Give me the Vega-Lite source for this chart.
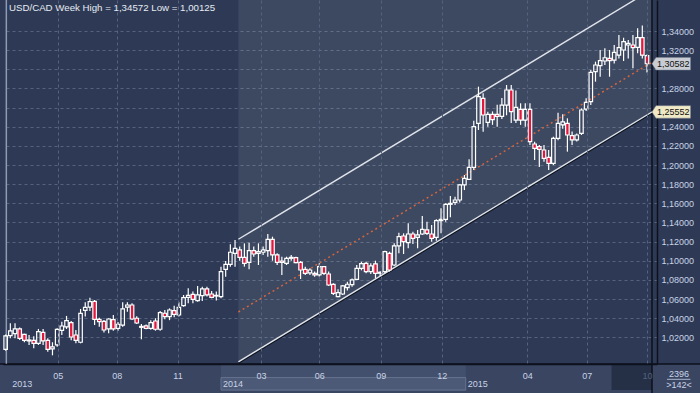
{
  "$schema": "https://vega.github.io/schema/vega-lite/v6.json",
  "width": 654,
  "height": 364,
  "autosize": "none",
  "padding": {"left": 3, "top": 0, "right": 43, "bottom": 29},
  "background": "#2e3a55",
  "resolve": {"axis": {"x": "independent", "y": "independent"}},
  "config": {
    "view": {"stroke": null},
    "axis": {"labelFont": "Liberation Sans", "labelFontSize": 9, "labelColor": "#c9d3e6", "ticks": false, "gridColor": "#56637f", "gridDash": [3, 3], "gridWidth": 1, "domainColor": "#0c111d", "domainWidth": 1.5, "labelFlush": false, "labelOverlap": false, "labelBound": false}
  },
  "datasets": {
    "candles": [
      {"d":"2013-02-17","o":1.0075,"h":1.0230,"l":1.0060,"c":1.0215},
      {"d":"2013-02-24","o":1.0218,"h":1.0347,"l":1.0190,"c":1.0267},
      {"d":"2013-03-03","o":1.0239,"h":1.0347,"l":1.0190,"c":1.0288},
      {"d":"2013-03-10","o":1.0288,"h":1.0302,"l":1.0173,"c":1.0190},
      {"d":"2013-03-17","o":1.0232,"h":1.0239,"l":1.0149,"c":1.0169},
      {"d":"2013-03-24","o":1.0163,"h":1.0225,"l":1.0121,"c":1.0173},
      {"d":"2013-03-31","o":1.0169,"h":1.0211,"l":1.0086,"c":1.0138},
      {"d":"2013-04-07","o":1.0138,"h":1.0288,"l":1.0121,"c":1.0260},
      {"d":"2013-04-14","o":1.0253,"h":1.0288,"l":1.0121,"c":1.0163},
      {"d":"2013-04-21","o":1.0169,"h":1.0190,"l":1.0051,"c":1.0075},
      {"d":"2013-04-28","o":1.0079,"h":1.0149,"l":1.00125,"c":1.0100},
      {"d":"2013-05-05","o":1.0121,"h":1.0295,"l":1.0103,"c":1.0284},
      {"d":"2013-05-12","o":1.0274,"h":1.0364,"l":1.0225,"c":1.0319},
      {"d":"2013-05-19","o":1.0309,"h":1.0424,"l":1.0288,"c":1.0375},
      {"d":"2013-05-26","o":1.0354,"h":1.0371,"l":1.0169,"c":1.0204},
      {"d":"2013-06-02","o":1.0225,"h":1.0277,"l":1.0138,"c":1.0169},
      {"d":"2013-06-09","o":1.0149,"h":1.0497,"l":1.0138,"c":1.0451},
      {"d":"2013-06-16","o":1.0483,"h":1.0566,"l":1.0417,"c":1.0514},
      {"d":"2013-06-23","o":1.0517,"h":1.0615,"l":1.0476,"c":1.0573},
      {"d":"2013-06-30","o":1.0577,"h":1.0591,"l":1.0330,"c":1.0389},
      {"d":"2013-07-07","o":1.0389,"h":1.0406,"l":1.0312,"c":1.0364},
      {"d":"2013-07-14","o":1.0368,"h":1.0382,"l":1.0250,"c":1.0277},
      {"d":"2013-07-21","o":1.0288,"h":1.0399,"l":1.0243,"c":1.0392},
      {"d":"2013-07-28","o":1.0385,"h":1.0434,"l":1.0270,"c":1.0288},
      {"d":"2013-08-04","o":1.0295,"h":1.0360,"l":1.0270,"c":1.0337},
      {"d":"2013-08-11","o":1.0329,"h":1.0566,"l":1.0310,"c":1.0497},
      {"d":"2013-08-18","o":1.0517,"h":1.0566,"l":1.0469,"c":1.0538},
      {"d":"2013-08-25","o":1.0538,"h":1.0556,"l":1.0382,"c":1.0392},
      {"d":"2013-09-01","o":1.0400,"h":1.0420,"l":1.0340,"c":1.0350},
      {"d":"2013-09-08","o":1.0305,"h":1.0340,"l":1.0180,"c":1.0315},
      {"d":"2013-09-15","o":1.0320,"h":1.0335,"l":1.0285,"c":1.0295},
      {"d":"2013-09-22","o":1.0295,"h":1.0380,"l":1.0280,"c":1.0354},
      {"d":"2013-09-29","o":1.0371,"h":1.0400,"l":1.0270,"c":1.0285},
      {"d":"2013-10-06","o":1.0285,"h":1.0476,"l":1.0270,"c":1.0458},
      {"d":"2013-10-13","o":1.0452,"h":1.0486,"l":1.0390,"c":1.0417},
      {"d":"2013-10-20","o":1.0417,"h":1.0503,"l":1.0380,"c":1.0486},
      {"d":"2013-10-27","o":1.0480,"h":1.0531,"l":1.0410,"c":1.0441},
      {"d":"2013-11-03","o":1.0434,"h":1.0566,"l":1.0417,"c":1.0514},
      {"d":"2013-11-10","o":1.0531,"h":1.0643,"l":1.0521,"c":1.0615},
      {"d":"2013-11-17","o":1.0618,"h":1.0712,"l":1.0556,"c":1.0639},
      {"d":"2013-11-24","o":1.0650,"h":1.0678,"l":1.0556,"c":1.0597},
      {"d":"2013-12-01","o":1.0584,"h":1.0737,"l":1.0573,"c":1.0643},
      {"d":"2013-12-08","o":1.0636,"h":1.0730,"l":1.0580,"c":1.0706},
      {"d":"2013-12-15","o":1.0706,"h":1.0730,"l":1.0626,"c":1.0643},
      {"d":"2013-12-22","o":1.0653,"h":1.0685,"l":1.0608,"c":1.0618},
      {"d":"2013-12-29","o":1.0632,"h":1.0678,"l":1.0584,"c":1.0639},
      {"d":"2014-01-05","o":1.0625,"h":1.0939,"l":1.0608,"c":1.0887},
      {"d":"2014-01-12","o":1.0911,"h":1.0998,"l":1.0834,"c":1.0963},
      {"d":"2014-01-19","o":1.0963,"h":1.1172,"l":1.0939,"c":1.1089},
      {"d":"2014-01-26","o":1.1078,"h":1.1217,"l":1.0939,"c":1.1130},
      {"d":"2014-02-02","o":1.1113,"h":1.1148,"l":1.1001,"c":1.1036},
      {"d":"2014-02-09","o":1.1036,"h":1.1182,"l":1.0939,"c":1.0974},
      {"d":"2014-02-16","o":1.0984,"h":1.1189,"l":1.0911,"c":1.1106},
      {"d":"2014-02-23","o":1.1106,"h":1.1148,"l":1.1043,"c":1.1071},
      {"d":"2014-03-02","o":1.1078,"h":1.1182,"l":1.0956,"c":1.1095},
      {"d":"2014-03-09","o":1.1089,"h":1.1148,"l":1.1061,"c":1.1113},
      {"d":"2014-03-16","o":1.1106,"h":1.1280,"l":1.1043,"c":1.1224},
      {"d":"2014-03-23","o":1.1224,"h":1.1252,"l":1.1001,"c":1.1061},
      {"d":"2014-03-30","o":1.1061,"h":1.1078,"l":1.0956,"c":1.0984},
      {"d":"2014-04-06","o":1.0998,"h":1.1043,"l":1.0852,"c":1.0984},
      {"d":"2014-04-13","o":1.0974,"h":1.1043,"l":1.0956,"c":1.1026},
      {"d":"2014-04-20","o":1.1026,"h":1.1060,"l":1.1000,"c":1.1036},
      {"d":"2014-04-27","o":1.1033,"h":1.1043,"l":1.0974,"c":1.0980},
      {"d":"2014-05-04","o":1.0984,"h":1.0998,"l":1.0810,"c":1.0904},
      {"d":"2014-05-11","o":1.0911,"h":1.0939,"l":1.0852,"c":1.0869},
      {"d":"2014-05-18","o":1.0873,"h":1.0921,"l":1.0852,"c":1.0904},
      {"d":"2014-05-25","o":1.0869,"h":1.0887,"l":1.0834,"c":1.0852},
      {"d":"2014-06-01","o":1.0852,"h":1.0974,"l":1.0834,"c":1.0939},
      {"d":"2014-06-08","o":1.0939,"h":1.0946,"l":1.0852,"c":1.0869},
      {"d":"2014-06-15","o":1.0862,"h":1.0887,"l":1.0737,"c":1.0747},
      {"d":"2014-06-22","o":1.0754,"h":1.0765,"l":1.0643,"c":1.0660},
      {"d":"2014-06-29","o":1.0625,"h":1.0702,"l":1.0618,"c":1.0667},
      {"d":"2014-07-06","o":1.0653,"h":1.0747,"l":1.0643,"c":1.0737},
      {"d":"2014-07-13","o":1.0720,"h":1.0780,"l":1.0690,"c":1.0755},
      {"d":"2014-07-20","o":1.0752,"h":1.0815,"l":1.0730,"c":1.0800},
      {"d":"2014-07-27","o":1.0806,"h":1.0956,"l":1.0799,"c":1.0921},
      {"d":"2014-08-03","o":1.0921,"h":1.0990,"l":1.0900,"c":1.0970},
      {"d":"2014-08-10","o":1.0974,"h":1.0991,"l":1.0869,"c":1.0887},
      {"d":"2014-08-17","o":1.0887,"h":1.0974,"l":1.0862,"c":1.0946},
      {"d":"2014-08-24","o":1.0967,"h":1.1001,"l":1.0817,"c":1.0869},
      {"d":"2014-08-31","o":1.0870,"h":1.0890,"l":1.0840,"c":1.0880},
      {"d":"2014-09-07","o":1.0887,"h":1.1106,"l":1.0869,"c":1.1095},
      {"d":"2014-09-14","o":1.1078,"h":1.1095,"l":1.0887,"c":1.0904},
      {"d":"2014-09-21","o":1.0956,"h":1.1182,"l":1.0946,"c":1.1155},
      {"d":"2014-09-28","o":1.1155,"h":1.1294,"l":1.1078,"c":1.1252},
      {"d":"2014-10-05","o":1.1259,"h":1.1287,"l":1.1071,"c":1.1200},
      {"d":"2014-10-12","o":1.1190,"h":1.1391,"l":1.1130,"c":1.1280},
      {"d":"2014-10-19","o":1.1280,"h":1.1304,"l":1.1175,"c":1.1235},
      {"d":"2014-10-26","o":1.1245,"h":1.1322,"l":1.1130,"c":1.1270},
      {"d":"2014-11-02","o":1.1280,"h":1.1468,"l":1.1270,"c":1.1329},
      {"d":"2014-11-09","o":1.1322,"h":1.1409,"l":1.1270,"c":1.1287},
      {"d":"2014-11-16","o":1.1280,"h":1.1374,"l":1.1200,"c":1.1235},
      {"d":"2014-11-23","o":1.1245,"h":1.1433,"l":1.1210,"c":1.1419},
      {"d":"2014-11-30","o":1.1419,"h":1.1548,"l":1.1287,"c":1.1433},
      {"d":"2014-12-07","o":1.1433,"h":1.1600,"l":1.1409,"c":1.1590},
      {"d":"2014-12-14","o":1.1590,"h":1.1677,"l":1.1454,"c":1.1600},
      {"d":"2014-12-21","o":1.1611,"h":1.1670,"l":1.1583,"c":1.1635},
      {"d":"2014-12-28","o":1.1635,"h":1.1800,"l":1.1610,"c":1.1792},
      {"d":"2015-01-04","o":1.1792,"h":1.1896,"l":1.1739,"c":1.1861},
      {"d":"2015-01-11","o":1.1851,"h":1.2060,"l":1.1844,"c":1.1976},
      {"d":"2015-01-18","o":1.1976,"h":1.2463,"l":1.1948,"c":1.2401},
      {"d":"2015-01-25","o":1.2436,"h":1.2819,"l":1.2366,"c":1.2714},
      {"d":"2015-02-01","o":1.2697,"h":1.2749,"l":1.2349,"c":1.2523},
      {"d":"2015-02-08","o":1.2446,"h":1.2558,"l":1.2401,"c":1.2530},
      {"d":"2015-02-15","o":1.2530,"h":1.2560,"l":1.2420,"c":1.2475},
      {"d":"2015-02-22","o":1.2530,"h":1.2630,"l":1.2400,"c":1.2508},
      {"d":"2015-03-01","o":1.2508,"h":1.2700,"l":1.2480,"c":1.2627},
      {"d":"2015-03-08","o":1.2627,"h":1.2836,"l":1.2520,"c":1.2784},
      {"d":"2015-03-15","o":1.2784,"h":1.2836,"l":1.2440,"c":1.2558},
      {"d":"2015-03-22","o":1.2470,"h":1.2780,"l":1.2440,"c":1.2603},
      {"d":"2015-03-29","o":1.2582,"h":1.2645,"l":1.2420,"c":1.2470},
      {"d":"2015-04-05","o":1.2470,"h":1.2645,"l":1.2400,"c":1.2582},
      {"d":"2015-04-12","o":1.2582,"h":1.2645,"l":1.2209,"c":1.2244},
      {"d":"2015-04-19","o":1.2220,"h":1.2244,"l":1.2053,"c":1.2175},
      {"d":"2015-04-26","o":1.2192,"h":1.2210,"l":1.1980,"c":1.2164},
      {"d":"2015-05-03","o":1.2157,"h":1.2210,"l":1.2035,"c":1.2070},
      {"d":"2015-05-10","o":1.2080,"h":1.2157,"l":1.1948,"c":1.2018},
      {"d":"2015-05-17","o":1.2018,"h":1.2296,"l":1.2000,"c":1.2279},
      {"d":"2015-05-24","o":1.2279,"h":1.2547,"l":1.2260,"c":1.2436},
      {"d":"2015-05-31","o":1.2420,"h":1.2530,"l":1.2380,"c":1.2450},
      {"d":"2015-06-07","o":1.2436,"h":1.2488,"l":1.2140,"c":1.2314},
      {"d":"2015-06-14","o":1.2307,"h":1.2350,"l":1.2210,"c":1.2262},
      {"d":"2015-06-21","o":1.2262,"h":1.2330,"l":1.2245,"c":1.2314},
      {"d":"2015-06-28","o":1.2331,"h":1.2592,"l":1.2314,"c":1.2575},
      {"d":"2015-07-05","o":1.2585,"h":1.2697,"l":1.2564,"c":1.2655},
      {"d":"2015-07-12","o":1.2662,"h":1.2993,"l":1.2627,"c":1.2968},
      {"d":"2015-07-19","o":1.2975,"h":1.3080,"l":1.2871,"c":1.3045},
      {"d":"2015-07-26","o":1.3038,"h":1.3202,"l":1.2923,"c":1.3090},
      {"d":"2015-08-02","o":1.3087,"h":1.3219,"l":1.3045,"c":1.3121},
      {"d":"2015-08-09","o":1.3114,"h":1.3202,"l":1.2923,"c":1.3090},
      {"d":"2015-08-16","o":1.3097,"h":1.3254,"l":1.3062,"c":1.3177},
      {"d":"2015-08-23","o":1.3149,"h":1.3358,"l":1.3114,"c":1.3226},
      {"d":"2015-08-30","o":1.3202,"h":1.3330,"l":1.3087,"c":1.3289},
      {"d":"2015-09-06","o":1.3254,"h":1.3306,"l":1.3114,"c":1.3271},
      {"d":"2015-09-13","o":1.3254,"h":1.3358,"l":1.3010,"c":1.3226},
      {"d":"2015-09-20","o":1.3229,"h":1.3428,"l":1.3167,"c":1.3330},
      {"d":"2015-09-27","o":1.3330,"h":1.34572,"l":1.3114,"c":1.3149},
      {"d":"2015-10-04","o":1.3142,"h":1.3156,"l":1.2968,"c":1.30582}
    ],
    "channel": [
      {"d":"2014-01-31","up":1.1225,"mid":1.0465,"lo":0.9945},
      {"d":"2015-10-12","up":1.3837,"mid":1.3077,"lo":1.2557}
    ],
    "years": [
      {"year":"2013","start":"2013-02-24","end":"2014-01-05"},
      {"year":"2014","start":"2014-01-05","end":"2015-01-06"},
      {"year":"2015","start":"2015-01-06","end":"2015-10-12"}
    ],
    "callouts": [
      {"label":"1,30582","v":1.30582,"kind":"close"},
      {"label":"1,25552","v":1.25552,"kind":"channel"}
    ],
    "counter": [{"bars":"2396","visible":">142<"}],
    "heading": [{"t":"USD/CAD Week High = 1,34572 Low = 1,00125"}]
  },
  "layer": [
    {
      "data": {"name": "channel"},
      "mark": {"type": "area", "clip": true, "color": "#ffffff", "opacity": 0.075},
      "encoding": {
        "x": {"field": "d", "type": "temporal", "axis": null, "scale": {"type": "utc", "domain": [{"year":2013,"month":2,"date":20,"hours":12,"utc":true},{"year":2015,"month":10,"date":11,"hours":12,"utc":true}]}},
        "y": {"field": "lo", "type": "quantitative", "axis": null, "scale": {"domain": [0.9922, 1.3724], "zero": false, "nice": false}},
        "y2": {"datum": 1.3724}
      }
    },
    {
      "data": {"values": [{}]},
      "mark": {"type": "rect", "color": "#394561"},
      "encoding": {
        "x": {"datum": {"year":2012,"month":12,"date":1,"utc":true}, "type": "temporal", "axis": null, "scale": {"type": "utc", "domain": [{"year":2013,"month":2,"date":20,"hours":12,"utc":true},{"year":2015,"month":10,"date":11,"hours":12,"utc":true}]}},
        "x2": {"datum": {"year":2016,"month":3,"date":1,"utc":true}},
        "y": {"datum": 0.9922, "type": "quantitative", "axis": null, "scale": {"domain": [0.9922, 1.3724], "zero": false, "nice": false}},
        "y2": {"datum": 0.93}
      }
    },
    {
      "data": {"name": "years"},
      "transform": [{"filter": "datum.year == '2014'"}],
      "mark": {"type": "rect", "color": "#43506d"},
      "encoding": {
        "x": {"field": "start", "type": "temporal", "axis": null, "scale": {"type": "utc", "domain": [{"year":2013,"month":2,"date":20,"hours":12,"utc":true},{"year":2015,"month":10,"date":11,"hours":12,"utc":true}]}},
        "x2": {"field": "end"},
        "y": {"datum": 0.9922, "type": "quantitative", "axis": null, "scale": {"domain": [0.9922, 1.3724], "zero": false, "nice": false}},
        "y2": {"datum": 0.9640}
      }
    },
    {
      "data": {"name": "years"},
      "transform": [{"filter": "datum.year == '2014'"}],
      "mark": {"type": "rect", "color": "#4c5977", "stroke": "#66738f", "strokeWidth": 1},
      "encoding": {
        "x": {"field": "start", "type": "temporal", "axis": null, "scale": {"type": "utc", "domain": [{"year":2013,"month":2,"date":20,"hours":12,"utc":true},{"year":2015,"month":10,"date":11,"hours":12,"utc":true}]}},
        "x2": {"field": "end"},
        "y": {"datum": 0.9780, "type": "quantitative", "axis": null, "scale": {"domain": [0.9922, 1.3724], "zero": false, "nice": false}},
        "y2": {"datum": 0.9650}
      }
    },
    {
      "data": {"values": [{}]},
      "mark": {"type": "rect", "color": "#222b42", "opacity": 0.85},
      "encoding": {
        "x": {"datum": {"year":2015,"month":8,"date":12,"utc":true}, "type": "temporal", "axis": null, "scale": {"type": "utc", "domain": [{"year":2013,"month":2,"date":20,"hours":12,"utc":true},{"year":2015,"month":10,"date":11,"hours":12,"utc":true}]}},
        "x2": {"datum": {"year":2015,"month":10,"date":11,"hours":12,"utc":true}},
        "y": {"datum": 0.9922, "type": "quantitative", "axis": null, "scale": {"domain": [0.9922, 1.3724], "zero": false, "nice": false}},
        "y2": {"datum": 0.9650}
      }
    },
    {
      "data": {"name": "years"},
      "mark": {"type": "text", "align": "left", "baseline": "middle", "dx": 2, "font": "Liberation Sans", "fontSize": 9, "color": "#c9d3e6"},
      "encoding": {
        "x": {"field": "start", "type": "temporal", "axis": null, "scale": {"type": "utc", "domain": [{"year":2013,"month":2,"date":20,"hours":12,"utc":true},{"year":2015,"month":10,"date":11,"hours":12,"utc":true}]}},
        "y": {"datum": 0.9712, "type": "quantitative", "axis": null, "scale": {"domain": [0.9922, 1.3724], "zero": false, "nice": false}},
        "text": {"field": "year"}
      }
    },
    {
      "data": {"name": "counter"},
      "mark": {"type": "text", "align": "center", "baseline": "middle", "font": "Liberation Sans", "fontSize": 9, "color": "#c9d3e6"},
      "encoding": {
        "x": {"datum": {"year":2015,"month":11,"date":21,"utc":true}, "type": "temporal", "axis": null, "scale": {"type": "utc", "domain": [{"year":2013,"month":2,"date":20,"hours":12,"utc":true},{"year":2015,"month":10,"date":11,"hours":12,"utc":true}]}},
        "y": {"datum": 0.9822, "type": "quantitative", "axis": null, "scale": {"domain": [0.9922, 1.3724], "zero": false, "nice": false}},
        "text": {"field": "bars"}
      }
    },
    {
      "data": {"name": "counter"},
      "mark": {"type": "text", "align": "center", "baseline": "middle", "font": "Liberation Sans", "fontSize": 9, "color": "#c9d3e6"},
      "encoding": {
        "x": {"datum": {"year":2015,"month":11,"date":21,"utc":true}, "type": "temporal", "axis": null, "scale": {"type": "utc", "domain": [{"year":2013,"month":2,"date":20,"hours":12,"utc":true},{"year":2015,"month":10,"date":11,"hours":12,"utc":true}]}},
        "y": {"datum": 0.9700, "type": "quantitative", "axis": null, "scale": {"domain": [0.9922, 1.3724], "zero": false, "nice": false}},
        "text": {"field": "visible"}
      }
    },
    {
      "data": {"values": [{}]},
      "mark": {"type": "rule", "color": "#aab6cc", "strokeWidth": 1},
      "encoding": {
        "x": {"datum": {"year":2015,"month":11,"date":3,"utc":true}, "type": "temporal", "axis": null, "scale": {"type": "utc", "domain": [{"year":2013,"month":2,"date":20,"hours":12,"utc":true},{"year":2015,"month":10,"date":11,"hours":12,"utc":true}]}},
        "x2": {"datum": {"year":2015,"month":12,"date":8,"utc":true}},
        "y": {"datum": 0.9762, "type": "quantitative", "axis": null, "scale": {"domain": [0.9922, 1.3724], "zero": false, "nice": false}}
      }
    },
    {
      "data": {"values": [{}]},
      "mark": {"type": "rule", "color": "#0c111d", "strokeWidth": 1.5},
      "encoding": {
        "x": {"datum": {"year":2012,"month":12,"date":1,"utc":true}, "type": "temporal", "axis": null, "scale": {"type": "utc", "domain": [{"year":2013,"month":2,"date":20,"hours":12,"utc":true},{"year":2015,"month":10,"date":11,"hours":12,"utc":true}]}},
        "x2": {"datum": {"year":2016,"month":3,"date":1,"utc":true}},
        "y": {"datum": 0.9922, "type": "quantitative", "axis": null, "scale": {"domain": [0.9922, 1.3724], "zero": false, "nice": false}}
      }
    },
    {
      "data": {"values": [{}]},
      "mark": {"type": "rule", "color": "#0c111d", "strokeWidth": 1.5},
      "encoding": {
        "x": {"datum": {"year":2015,"month":10,"date":11,"hours":12,"utc":true}, "type": "temporal", "axis": null, "scale": {"type": "utc", "domain": [{"year":2013,"month":2,"date":20,"hours":12,"utc":true},{"year":2015,"month":10,"date":11,"hours":12,"utc":true}]}},
        "y": {"datum": 1.3724, "type": "quantitative", "axis": null, "scale": {"domain": [0.9922, 1.3724], "zero": false, "nice": false}},
        "y2": {"datum": 0.93}
      }
    },
    {
      "data": {"values": [{}]},
      "mark": {"type": "rule", "color": "#8f9bb1", "strokeWidth": 1.5},
      "encoding": {
        "x": {"datum": {"year":2013,"month":2,"date":18,"utc":true}, "type": "temporal", "axis": null, "scale": {"type": "utc", "domain": [{"year":2013,"month":2,"date":20,"hours":12,"utc":true},{"year":2015,"month":10,"date":11,"hours":12,"utc":true}]}},
        "y": {"datum": 1.3724, "type": "quantitative", "axis": null, "scale": {"domain": [0.9922, 1.3724], "zero": false, "nice": false}},
        "y2": {"datum": 0.9922}
      }
    },
    {
      "data": {"name": "channel"},
      "mark": {"type": "line", "clip": true, "color": "#0c111d", "strokeWidth": 1.5, "yOffset": 1.2},
      "encoding": {
        "x": {"field": "d", "type": "temporal", "axis": null, "scale": {"type": "utc", "domain": [{"year":2013,"month":2,"date":20,"hours":12,"utc":true},{"year":2015,"month":10,"date":11,"hours":12,"utc":true}]}},
        "y": {"field": "lo", "type": "quantitative", "axis": null, "scale": {"domain": [0.9922, 1.3724], "zero": false, "nice": false}}
      }
    },
    {
      "data": {"name": "channel"},
      "mark": {"type": "line", "clip": true, "color": "#dfe3ea", "strokeWidth": 1.4},
      "encoding": {
        "x": {"field": "d", "type": "temporal", "axis": null, "scale": {"type": "utc", "domain": [{"year":2013,"month":2,"date":20,"hours":12,"utc":true},{"year":2015,"month":10,"date":11,"hours":12,"utc":true}]}},
        "y": {"field": "lo", "type": "quantitative", "axis": null, "scale": {"domain": [0.9922, 1.3724], "zero": false, "nice": false}}
      }
    },
    {
      "data": {"name": "channel"},
      "mark": {"type": "line", "clip": true, "color": "#dfe3ea", "strokeWidth": 1.4},
      "encoding": {
        "x": {"field": "d", "type": "temporal", "axis": null, "scale": {"type": "utc", "domain": [{"year":2013,"month":2,"date":20,"hours":12,"utc":true},{"year":2015,"month":10,"date":11,"hours":12,"utc":true}]}},
        "y": {"field": "up", "type": "quantitative", "axis": null, "scale": {"domain": [0.9922, 1.3724], "zero": false, "nice": false}}
      }
    },
    {
      "data": {"name": "channel"},
      "mark": {"type": "line", "clip": true, "color": "#d2643e", "strokeWidth": 1.5, "strokeDash": [2, 3]},
      "encoding": {
        "x": {"field": "d", "type": "temporal", "axis": null, "scale": {"type": "utc", "domain": [{"year":2013,"month":2,"date":20,"hours":12,"utc":true},{"year":2015,"month":10,"date":11,"hours":12,"utc":true}]}},
        "y": {"field": "mid", "type": "quantitative", "axis": null, "scale": {"domain": [0.9922, 1.3724], "zero": false, "nice": false}}
      }
    },
    {
      "data": {"name": "candles"},
      "mark": {"type": "rule", "clip": true, "color": "#ffffff", "strokeWidth": 1.2},
      "encoding": {
        "x": {"field": "d", "type": "temporal", "axis": null, "scale": {"type": "utc", "domain": [{"year":2013,"month":2,"date":20,"hours":12,"utc":true},{"year":2015,"month":10,"date":11,"hours":12,"utc":true}]}},
        "y": {"field": "l", "type": "quantitative", "axis": null, "scale": {"domain": [0.9922, 1.3724], "zero": false, "nice": false}},
        "y2": {"field": "o"}
      }
    },
    {
      "data": {"name": "candles"},
      "mark": {"type": "rule", "clip": true, "color": "#ffffff", "strokeWidth": 1.2},
      "encoding": {
        "x": {"field": "d", "type": "temporal", "axis": null, "scale": {"type": "utc", "domain": [{"year":2013,"month":2,"date":20,"hours":12,"utc":true},{"year":2015,"month":10,"date":11,"hours":12,"utc":true}]}},
        "y": {"field": "c", "type": "quantitative", "axis": null, "scale": {"domain": [0.9922, 1.3724], "zero": false, "nice": false}},
        "y2": {"field": "h"}
      }
    },
    {
      "data": {"name": "candles"},
      "mark": {"type": "bar", "size": 3.5, "stroke": "#ffffff", "strokeWidth": 1.2, "clip": true},
      "encoding": {
        "x": {"field": "d", "type": "temporal", "scale": {"type": "utc", "domain": [{"year":2013,"month":2,"date":20,"hours":12,"utc":true},{"year":2015,"month":10,"date":11,"hours":12,"utc":true}]},
          "axis": {"title": null, "values": [{"year":2013,"month":5,"date":6,"utc":true},{"year":2013,"month":8,"date":2,"utc":true},{"year":2013,"month":11,"date":1,"utc":true},{"year":2014,"month":3,"date":6,"utc":true},{"year":2014,"month":6,"date":1,"utc":true},{"year":2014,"month":9,"date":1,"utc":true},{"year":2014,"month":12,"date":1,"utc":true},{"year":2015,"month":4,"date":8,"utc":true},{"year":2015,"month":7,"date":6,"utc":true},{"year":2015,"month":10,"date":4,"utc":true}],
            "labelExpr": "utcFormat(datum.value, '%m')", "grid": true, "labelPadding": 7, "zindex": 1, "labelAlign": "center",
            "labelColor": {"condition": {"test": "datum.value > utc(2015, 7, 20)", "value": "#56617c"}, "value": "#c9d3e6"}}},
        "y": {"field": "o", "type": "quantitative", "scale": {"domain": [0.9922, 1.3724], "zero": false, "nice": false},
          "axis": {"title": null, "orient": "right", "values": [1.02,1.04,1.06,1.08,1.10,1.12,1.14,1.16,1.18,1.20,1.22,1.24,1.26,1.28,1.30,1.32,1.34], "labelExpr": "datum.value == 1.26 || datum.value == 1.3 ? '' : replace(format(datum.value, '.5f'), '.', ',')", "grid": true, "labelPadding": 4, "labelAlign": "left", "labelBaseline": "middle"}},
        "y2": {"field": "c"},
        "fill": {"condition": {"test": "datum.c < datum.o", "value": "#e3163c"}, "value": "transparent"}
      }
    },
    {
      "data": {"name": "callouts"},
      "mark": {"type": "point", "filled": true, "opacity": 1, "size": 100, "shape": "M0,0L0.8,-1.25L7.7,-1.25L7.7,1.25L0.8,1.25Z", "stroke": "#7d8594", "strokeWidth": 0.5},
      "encoding": {
        "x": {"datum": {"year":2015,"month":10,"date":11,"hours":12,"utc":true}, "type": "temporal", "axis": null, "scale": {"type": "utc", "domain": [{"year":2013,"month":2,"date":20,"hours":12,"utc":true},{"year":2015,"month":10,"date":11,"hours":12,"utc":true}]}},
        "y": {"field": "v", "type": "quantitative", "axis": null, "scale": {"domain": [0.9922, 1.3724], "zero": false, "nice": false}},
        "fill": {"field": "kind", "type": "nominal", "scale": {"domain": ["close", "channel"], "range": ["#c9ccd3", "#efe9c6"]}, "legend": null}
      }
    },
    {
      "data": {"name": "callouts"},
      "mark": {"type": "text", "align": "left", "baseline": "middle", "dx": 5, "font": "Liberation Sans", "fontSize": 9, "color": "#111111"},
      "encoding": {
        "x": {"datum": {"year":2015,"month":10,"date":11,"hours":12,"utc":true}, "type": "temporal", "axis": null, "scale": {"type": "utc", "domain": [{"year":2013,"month":2,"date":20,"hours":12,"utc":true},{"year":2015,"month":10,"date":11,"hours":12,"utc":true}]}},
        "y": {"field": "v", "type": "quantitative", "axis": null, "scale": {"domain": [0.9922, 1.3724], "zero": false, "nice": false}},
        "text": {"field": "label"}
      }
    },
    {
      "data": {"name": "heading"},
      "mark": {"type": "text", "align": "left", "baseline": "top", "dx": 1, "dy": 3, "font": "Liberation Sans", "fontSize": 9.7, "color": "#e6ebf3"},
      "encoding": {
        "x": {"datum": {"year":2013,"month":2,"date":20,"hours":12,"utc":true}, "type": "temporal", "axis": null, "scale": {"type": "utc", "domain": [{"year":2013,"month":2,"date":20,"hours":12,"utc":true},{"year":2015,"month":10,"date":11,"hours":12,"utc":true}]}},
        "y": {"datum": 1.3724, "type": "quantitative", "axis": null, "scale": {"domain": [0.9922, 1.3724], "zero": false, "nice": false}},
        "text": {"field": "t"}
      }
    }
  ]
}
